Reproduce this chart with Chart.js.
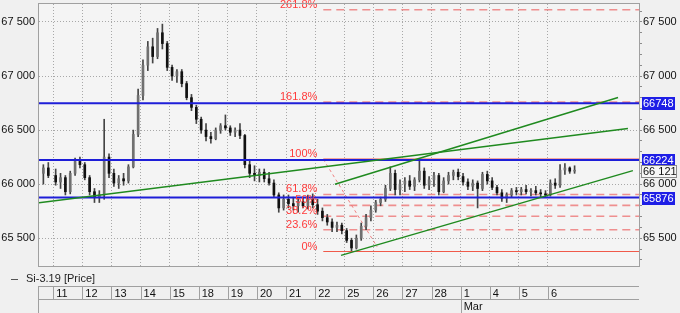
<!DOCTYPE html>
<html>
<head>
<meta charset="utf-8">
<script src="https://cdn.jsdelivr.net/npm/chart.js@4.4.0/dist/chart.umd.min.js"></script>
<style>
html, body { margin: 0; padding: 0; background: #f0f0f0; }
</style>
</head>
<body>
<canvas id="price_chart" width="680" height="313"></canvas>
<script>
// trading days shown on the time axis (index = x value of the day start)
const days = ['11', '12', '13', '14', '15', '18', '19', '20', '21', '22', '25', '26', '27', '28', '1', '4', '5', '6'];
const months = { 14: 'Mar' };
const seriesName = 'Si-3.19 [Price]';
const yLabels = [65500, 66000, 66500, 67000, 67500];

// 2 bars before the 11th, then 6 bars per day
const opens = [
  66100, 66150,
  66080, 66020, 66060, 65930, 66100, 66210,
  66180, 66060, 65930, 65880, 65900, 66250,
  66100, 66010, 66050, 66030, 66160, 66460,
  66820, 67100, 67270, 67180, 67400, 67300,
  67080, 67000, 67040, 66930, 66800, 66710,
  66600, 66500, 66440, 66420, 66500, 66540,
  66520, 66480, 66500, 66450, 66180, 66100,
  66080, 66110, 66050, 66010, 65900, 65780,
  65860, 65820, 65800, 65840, 65800, 65860,
  65810, 65750, 65690, 65650, 65600, 65620,
  65570, 65480, 65410, 65500, 65610, 65690,
  65760, 65830, 65860, 65960, 66100, 65950,
  66000, 66030, 65980, 66040, 66120, 65990,
  66040, 66080, 65930, 66030, 66080, 66110,
  66070, 66020, 65980, 66010, 65960, 66090,
  66030, 65970, 65920, 65870, 65900, 65940,
  65930, 65950, 65930, 65940, 65920, 65910,
  65900, 66010, 65990, 66130, 66150, 66120
];
const highs = [
  66180, 66200,
  66140, 66100, 66080, 66120, 66240, 66250,
  66200, 66080, 65960, 65940, 66600, 66280,
  66140, 66080, 66100, 66180, 66500, 66880,
  67150, 67320, 67350, 67440, 67480, 67320,
  67100, 67060, 67060, 66950, 66830, 66730,
  66620, 66560, 66480, 66520, 66560, 66640,
  66540, 66520, 66560, 66460, 66230, 66170,
  66140, 66140, 66110, 66040, 65920, 65900,
  65900, 65880, 65870, 65880, 65900, 65910,
  65860, 65780, 65720, 65680, 65650, 65640,
  65590, 65500, 65530, 65640, 65720, 65800,
  65850, 65880, 65990, 66160, 66130, 66040,
  66060, 66080, 66060, 66231, 66150, 66070,
  66110, 66100, 66060, 66110, 66130, 66140,
  66100, 66050, 66040, 66030, 66110, 66120,
  66060, 65990, 65950, 65920, 65960, 65970,
  65970, 65990, 65960, 65980, 65950, 65940,
  66040, 66050, 66180, 66190, 66160, 66170
];
const lows = [
  66000, 66060,
  65990, 65960, 65900, 65910, 66080, 66150,
  66040, 65900, 65830, 65830, 65860, 66060,
  65980, 65960, 65990, 66010, 66150, 66440,
  66780, 67050, 67120, 67160, 67250, 67050,
  66960, 66940, 66900, 66780, 66680, 66560,
  66470, 66400, 66380, 66410, 66470, 66500,
  66450, 66440, 66420, 66150, 66060, 66030,
  66020, 66020, 65990, 65880, 65740, 65760,
  65780, 65760, 65740, 65780, 65770, 65780,
  65720, 65660, 65620, 65560, 65560, 65540,
  65460, 65377, 65400, 65480, 65580, 65660,
  65740, 65800, 65840, 65940, 65900, 65900,
  65930, 65950, 65940, 66020, 65960, 65950,
  65980, 65900, 65920, 66000, 66040, 66040,
  65990, 65950, 65940, 65780, 65940, 66000,
  65950, 65900, 65840, 65830, 65880, 65900,
  65900, 65910, 65890, 65900, 65880, 65880,
  65890, 65960, 65970, 66090, 66100, 66100
];
const closes = [
  66150, 66080,
  66020, 66060, 65930, 66100, 66210, 66180,
  66060, 65930, 65880, 65900, 66250, 66100,
  66010, 66050, 66030, 66160, 66460, 66820,
  67100, 67270, 67180, 67400, 67300, 67080,
  67000, 67040, 66930, 66800, 66710, 66600,
  66500, 66440, 66420, 66500, 66540, 66520,
  66480, 66500, 66450, 66180, 66100, 66080,
  66110, 66050, 66010, 65900, 65780, 65860,
  65820, 65800, 65840, 65800, 65860, 65810,
  65750, 65690, 65650, 65600, 65620, 65570,
  65480, 65410, 65500, 65610, 65690, 65760,
  65830, 65860, 65960, 66100, 65950, 66000,
  66030, 65980, 66040, 66120, 65990, 66040,
  66080, 65930, 66030, 66080, 66110, 66070,
  66020, 65980, 66010, 65960, 66090, 66030,
  65970, 65920, 65870, 65900, 65940, 65930,
  65950, 65930, 65940, 65920, 65910, 65900,
  66010, 65990, 66130, 66150, 66120, 66121
];

// horizontal levels (blue)
const levels = [66748, 66224, 65876];
// fibonacci grid
const fibHigh = 66231;
const fibLow = 65377;
const fibRatios = [0, 0.236, 0.382, 0.5, 0.618, 1, 1.618, 2.618];
const fibFrom = 9.28;
const fibTo = 11.13;
const fibDiagEnd = 65420;
// trend lines: [x1, y1, x2, y2] in day units / price
const trendLines = [
  [-0.49, 65829, 19.75, 66515],
  [9.68, 65999, 19.41, 66802],
  [9.89, 65341, 19.92, 66125]
];

const xMin = -0.49, xMax = 20.13;
const yMin = 65243, yMax = 67666;

// bar times: 2 bars before the first day, 6 bars inside each day
const barX = opens.map((o, i) => i < 2 ? -0.34 + i * 0.17 : Math.floor((i - 2) / 6) + (((i - 2) % 6) + 0.5) / 6);

const fmt = v => String(v).replace(/\B(?=(\d{3})+(?!\d))/g, ' ');
const font = { family: "'Liberation Sans', Arial, sans-serif", size: 11 };
Chart.defaults.font.family = font.family;

const datasets = [];
datasets.push({
  type: 'bar', label: 'wicks', order: 5, grouped: false, barThickness: 1,
  backgroundColor: '#444',
  data: barX.map((x, i) => ({ x: x, y: [lows[i], highs[i]] }))
});
datasets.push({
  type: 'bar', label: seriesName, order: 4, grouped: false, barThickness: 2, minBarLength: 1,
  backgroundColor: ctx => closes[ctx.dataIndex] >= opens[ctx.dataIndex] ? '#707070' : '#111',
  data: barX.map((x, i) => ({ x: x, y: [Math.min(opens[i], closes[i]), Math.max(opens[i], closes[i])] }))
});
fibRatios.forEach(r => {
  const v = fibLow + r * (fibHigh - fibLow);
  const solid = r === 0 || r === 1;
  datasets.push({
    type: 'line', order: solid ? 2 : 6, pointRadius: 0,
    borderColor: solid ? '#f05a4a' : 'rgba(238,110,110,0.75)',
    borderWidth: solid ? 1.2 : 1.6,
    borderDash: solid ? [] : [8, 5],
    data: [{ x: fibFrom, y: v }, { x: xMax, y: v }]
  });
});
datasets.push({
  type: 'line', order: 6, pointRadius: 0, borderColor: 'rgba(238,100,100,0.8)', borderWidth: 1, borderDash: [3, 3],
  data: [{ x: fibFrom, y: fibHigh }, { x: fibTo, y: fibDiagEnd }]
});
levels.forEach(v => {
  datasets.push({
    type: 'line', order: 1, pointRadius: 0, borderColor: '#1e1ed8', borderWidth: 2,
    data: [{ x: xMin, y: v }, { x: xMax, y: v }]
  });
});
trendLines.forEach(t => {
  datasets.push({
    type: 'line', order: 0, pointRadius: 0, borderColor: '#1f8a1f', borderWidth: 1.5,
    data: [{ x: t[0], y: t[1] }, { x: t[2], y: t[3] }]
  });
});

const decorations = {
  id: 'decorations',
  beforeDraw(chart) {
    const { ctx, chartArea: a } = chart;
    ctx.save();
    ctx.fillStyle = '#f0f0f0';
    ctx.fillRect(0, 0, chart.width, chart.height);
    ctx.fillStyle = '#f4f4f4';
    ctx.fillRect(a.left, a.top, a.right - a.left, a.bottom - a.top);
    ctx.restore();
  },
  afterDatasetsDraw(chart) {
    const { ctx } = chart;
    const xs = chart.scales.x, ys = chart.scales.y;
    ctx.save();
    ctx.font = '11px ' + font.family;
    ctx.fillStyle = '#ff3a3a';
    ctx.textAlign = 'right';
    ctx.textBaseline = 'alphabetic';
    const right = xs.getPixelForValue(fibFrom) - 6;
    fibRatios.forEach(r => {
      const v = fibLow + r * (fibHigh - fibLow);
      const txt = (Math.round(r * 1000) / 10) + '%';
      ctx.fillText(txt, right, ys.getPixelForValue(v) - 2);
    });
    ctx.restore();
  },
  afterDraw(chart) {
    const { ctx, chartArea: a } = chart;
    const xs = chart.scales.x, ys = chart.scales.y;
    ctx.save();
    // plot frame
    ctx.strokeStyle = '#a0a0a0';
    ctx.lineWidth = 1;
    ctx.strokeRect(Math.round(a.left) - 0.5, Math.round(a.top) - 0.5, a.right - a.left + 1, a.bottom - a.top + 1);

    // legend row
    ctx.strokeStyle = '#555';
    ctx.beginPath();
    ctx.moveTo(11, 279.5); ctx.lineTo(18, 279.5);
    ctx.stroke();
    ctx.font = '11px ' + font.family;
    ctx.fillStyle = '#222';
    ctx.textBaseline = 'middle';
    ctx.textAlign = 'left';
    ctx.fillText(seriesName, 26, 279);

    // time axis box
    ctx.strokeStyle = '#a0a0a0';
    ctx.beginPath();
    ctx.moveTo(a.left, 286.5); ctx.lineTo(a.right, 286.5);
    ctx.moveTo(a.left, 299.5); ctx.lineTo(a.right, 299.5);
    ctx.moveTo(a.left - 0.5, 286); ctx.lineTo(a.left - 0.5, 313);
    days.forEach((d, i) => {
      const px = Math.round(xs.getPixelForValue(i)) + 0.5;
      ctx.moveTo(px, 286);
      ctx.lineTo(px, months[i] ? 313 : 299);
    });
    ctx.stroke();

    // right-side price tags
    ctx.font = '11px ' + font.family;
    ctx.textBaseline = 'middle';
    levels.forEach(v => {
      const py = Math.round(ys.getPixelForValue(v));
      ctx.fillStyle = '#1e1ee6';
      ctx.fillRect(642, py - 6, 33, 13);
      ctx.fillStyle = '#fff';
      ctx.fillText(String(v), 643, py + 0.5);
    });
    const last = closes[closes.length - 1];
    const ly = Math.round(ys.getPixelForValue(last));
    ctx.fillStyle = '#f7f7f7';
    ctx.fillRect(641.5, ly - 5.5, 35, 12);
    ctx.strokeStyle = '#8a8a8a';
    ctx.strokeRect(641.5, ly - 5.5, 35, 12);
    ctx.fillStyle = '#111';
    ctx.fillText(fmt(last), 643, ly + 0.5);
    ctx.restore();
  }
};

const fitY = w => s => { s.width = w; s.paddingTop = 0; s.paddingBottom = 0; };

const config = {
  type: 'bar',
  data: { datasets: datasets },
  options: {
    responsive: false,
    animation: false,
    layout: { padding: { top: 4, left: 0, right: 0, bottom: 0 } },
    plugins: { legend: { display: false }, tooltip: { enabled: false } },
    scales: {
      x: {
        type: 'linear', min: xMin, max: xMax, offset: false,
        afterBuildTicks: s => { s.ticks = days.map((d, i) => ({ value: i })); },
        afterFit: s => { s.height = 47; s.paddingLeft = 0; s.paddingRight = 0; },
        grid: { color: '#a8a8a8', drawTicks: false, offset: false },
        border: { display: false, dash: [1, 2] },
        ticks: {
          align: 'start', labelOffset: 3, padding: 21, maxRotation: 0, minRotation: 0, autoSkip: false,
          color: '#111', font: font,
          callback: (v, i) => months[i] ? [days[i], months[i]] : days[i]
        }
      },
      y: {
        position: 'left', min: yMin, max: yMax,
        afterFit: fitY(39),
        ticks: {
          stepSize: 100, includeBounds: false, autoSkip: false, padding: 4, color: '#111', font: font,
          callback: v => yLabels.includes(v) ? fmt(v) : ''
        },
        grid: { drawTicks: false, color: c => c.tick && yLabels.includes(c.tick.value) ? '#a8a8a8' : 'rgba(0,0,0,0)' },
        border: { display: false, dash: [1, 2] }
      },
      y2: {
        position: 'right', min: yMin, max: yMax,
        afterFit: fitY(41),
        ticks: {
          stepSize: 100, includeBounds: false, autoSkip: false, padding: 1, color: '#111', font: font,
          callback: v => yLabels.includes(v) ? fmt(v) : ''
        },
        grid: { drawOnChartArea: false, tickLength: 3, tickColor: '#8c8c8c' },
        border: { display: false }
      }
    }
  },
  plugins: [decorations]
};

const price_chart = new Chart(document.getElementById('price_chart'), config);
</script>
</body>
</html>
